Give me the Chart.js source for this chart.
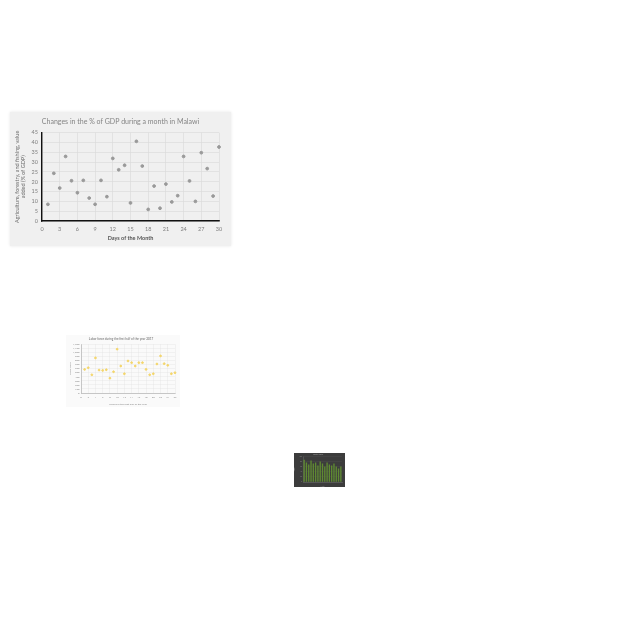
<!DOCTYPE html>
<html><head><meta charset="utf-8">
<script src="https://cdn.jsdelivr.net/npm/chart.js@4"></script>
<style>
html,body{margin:0;padding:0;background:#fff;width:640px;height:640px;overflow:hidden;}
.box{position:absolute;}
#b1{left:10px;top:112px;width:221px;height:134px;background:#f0f0f0;box-shadow:0 0 3px #e6e6e6;}
#b2{left:66px;top:335px;width:114px;height:72px;background:#fafafa;}
#b3{left:294px;top:453px;width:51px;height:34px;background:#3c3c3c;}
</style></head>
<body>
<div class="box" id="b1"><canvas id="c1" width="221" height="134"></canvas></div>
<div class="box" id="b2"><canvas id="c2" width="114" height="72"></canvas></div>
<div class="box" id="b3"><canvas id="c3" width="51" height="34"></canvas></div>
<script>
// Main chart data
const days = [1,2,3,4,5,6,7,8,9,10,11,12,13,14,15,16,17,18,19,20,21,22,23,24,25,26,27,28,29,30];
const gdpShare = [8.5,24.3,16.8,32.9,20.5,14.4,20.7,11.7,8.5,20.7,12.4,31.9,26.1,28.4,9.2,40.6,28.0,5.9,17.8,6.5,18.8,9.7,12.9,32.9,20.4,10.0,34.8,26.7,12.7,37.7];
const mainTitle = "Changes in the % of GDP during a month in Malawi";
const mainXLabel = "Days of the Month";
const mainYLabel = ["Agriculture, forestry, and fishing, value","added (% of GDP)"];

// Second chart data
const weeks = [1,2,3,4,5,6,7,8,9,10,11,12,13,14,15,16,17,18,19,20,21,22,23,24,25,26];
const laborForce = [579,621,447,861,563,554,571,364,521,1076,662,472,786,745,662,745,745,579,447,472,712,910,720,679,472,497];
const labTitle = "Labor force during the first half of the year 2017";
const labXLabel = "Weeks in the first half of the year";
const labYLabel = "Labor force";

// Third chart data
const barCats = ["1","2","3","4","5","6","7","8","9","10","11","12","13","14","15","16","17"];
const barVals = [88,77,69,85,73,77,65,81,73,62,77,69,65,73,62,54,62];
const barTitle = "Monthly values";

const FF = "Lato, 'Open Sans', sans-serif";

const centerTitle = {
  id:'centerTitle',
  afterDraw(chart, args, opts){
    const ctx = chart.ctx;
    ctx.save();
    ctx.font = opts.size + 'px ' + FF;
    ctx.fillStyle = opts.color;
    ctx.textAlign = 'center';
    ctx.textBaseline = 'middle';
    ctx.fillText(opts.text, chart.width/2 + (opts.dx||0), opts.y);
    ctx.restore();
  }
};

new Chart(document.getElementById('c1'), {
  type: 'scatter',
  data: { datasets: [{ data: days.map((d,i)=>({x:d,y:gdpShare[i]})), backgroundColor:'#999999', borderColor:'#999999', pointRadius:1.4, pointHoverRadius:1.4, clip:false }] },
  options: {
    responsive:false, animation:false, events:[],
    layout:{padding:{left:0,right:12,top:20.7,bottom:0}},
    plugins:{ legend:{display:false}, tooltip:{enabled:false}, title:{display:false},
      centerTitle:{text:mainTitle, color:'#858585', size:7, y:9.5} },
    scales:{
      x:{ type:'linear', min:0, max:30, afterFit:s=>{s.height=25;},
        ticks:{stepSize:3, color:'#7f7f7f', font:{family:FF,size:5.5}, padding:5},
        grid:{color:'#d9d9d9', lineWidth:0.6, drawTicks:false},
        border:{color:'#111', width:1.4},
        title:{display:true, text:mainXLabel, color:'#555', font:{family:FF,size:5.5,weight:'bold'}, padding:{top:2,bottom:4}} },
      y:{ min:0, max:45, afterFit:s=>{s.width=32;},
        ticks:{stepSize:5, color:'#7f7f7f', font:{family:FF,size:5.5}, padding:4},
        grid:{color:'#d9d9d9', lineWidth:0.6, drawTicks:false},
        border:{color:'#111', width:1.4},
        title:{display:true, text:mainYLabel, color:'#6b6b6b', font:{family:FF,size:5.5}, padding:{top:3.5,bottom:0}} }
    }
  },
  plugins:[centerTitle]
});

new Chart(document.getElementById('c2'), {
  type: 'scatter',
  data: { datasets: [{ data: weeks.map((w,i)=>({x:w,y:laborForce[i]})), backgroundColor:'#f3d56a', borderColor:'#f3d56a', pointRadius:0.9, clip:false }] },
  options: {
    responsive:false, animation:false, events:[],
    layout:{padding:{left:0,right:4,top:0,bottom:0}},
    plugins:{ legend:{display:false}, tooltip:{enabled:false},
      title:{display:true, text:labTitle, color:'#8a8a8a', font:{family:FF,size:3}, padding:{top:2,bottom:3.5}} },
    scales:{
      x:{ type:'linear', min:0, max:26, afterFit:s=>{s.height=14;},
        ticks:{stepSize:2, autoSkip:false, maxRotation:0, color:'#8a8a8a', font:{family:FF,size:2.6}, padding:2.5},
        grid:{color:'#e3e3e3', lineWidth:0.4, drawTicks:false},
        border:{color:'#aaa', width:0.6},
        title:{display:true, text:labXLabel, color:'#8a8a8a', font:{family:FF,size:2.6}, padding:{top:1,bottom:1}} },
      y:{ min:0, max:1200, afterFit:s=>{s.width=15;},
        ticks:{stepSize:100, autoSkip:false, color:'#8a8a8a', font:{family:FF,size:2.6}, padding:1.5},
        grid:{color:'#e3e3e3', lineWidth:0.4, drawTicks:false},
        border:{color:'#aaa', width:0.6},
        title:{display:true, text:labYLabel, color:'#8a8a8a', font:{family:FF,size:2.6}, padding:{top:3,bottom:0}} }
    }
  }
});

new Chart(document.getElementById('c3'), {
  type: 'bar',
  data: { labels: barCats, datasets: [{ data: barVals, backgroundColor:'#5f8a32', borderWidth:0, barPercentage:0.65, categoryPercentage:0.9 }] },
  options: {
    responsive:false, animation:false, events:[],
    layout:{padding:{left:0,right:3,top:0,bottom:0}},
    plugins:{ legend:{display:false}, tooltip:{enabled:false},
      title:{display:true, text:barTitle, color:'#999', font:{family:FF,size:1.5}, padding:{top:1,bottom:1}} },
    scales:{
      x:{ afterFit:s=>{s.height=5;}, ticks:{display:false}, grid:{display:false}, border:{color:'#777',width:0.4},
        title:{display:true, text:'Month', color:'#888', font:{family:FF,size:1.5}, padding:0} },
      y:{ min:0, max:100, afterFit:s=>{s.width=9;}, ticks:{stepSize:20, color:'#888', font:{family:FF,size:1.5}, padding:1},
        grid:{color:'#555', lineWidth:0.3, drawTicks:false}, border:{color:'#777',width:0.4},
        title:{display:true, text:'Value', color:'#888', font:{family:FF,size:1.5}, padding:0} }
    }
  }
});
</script>
</body></html>
